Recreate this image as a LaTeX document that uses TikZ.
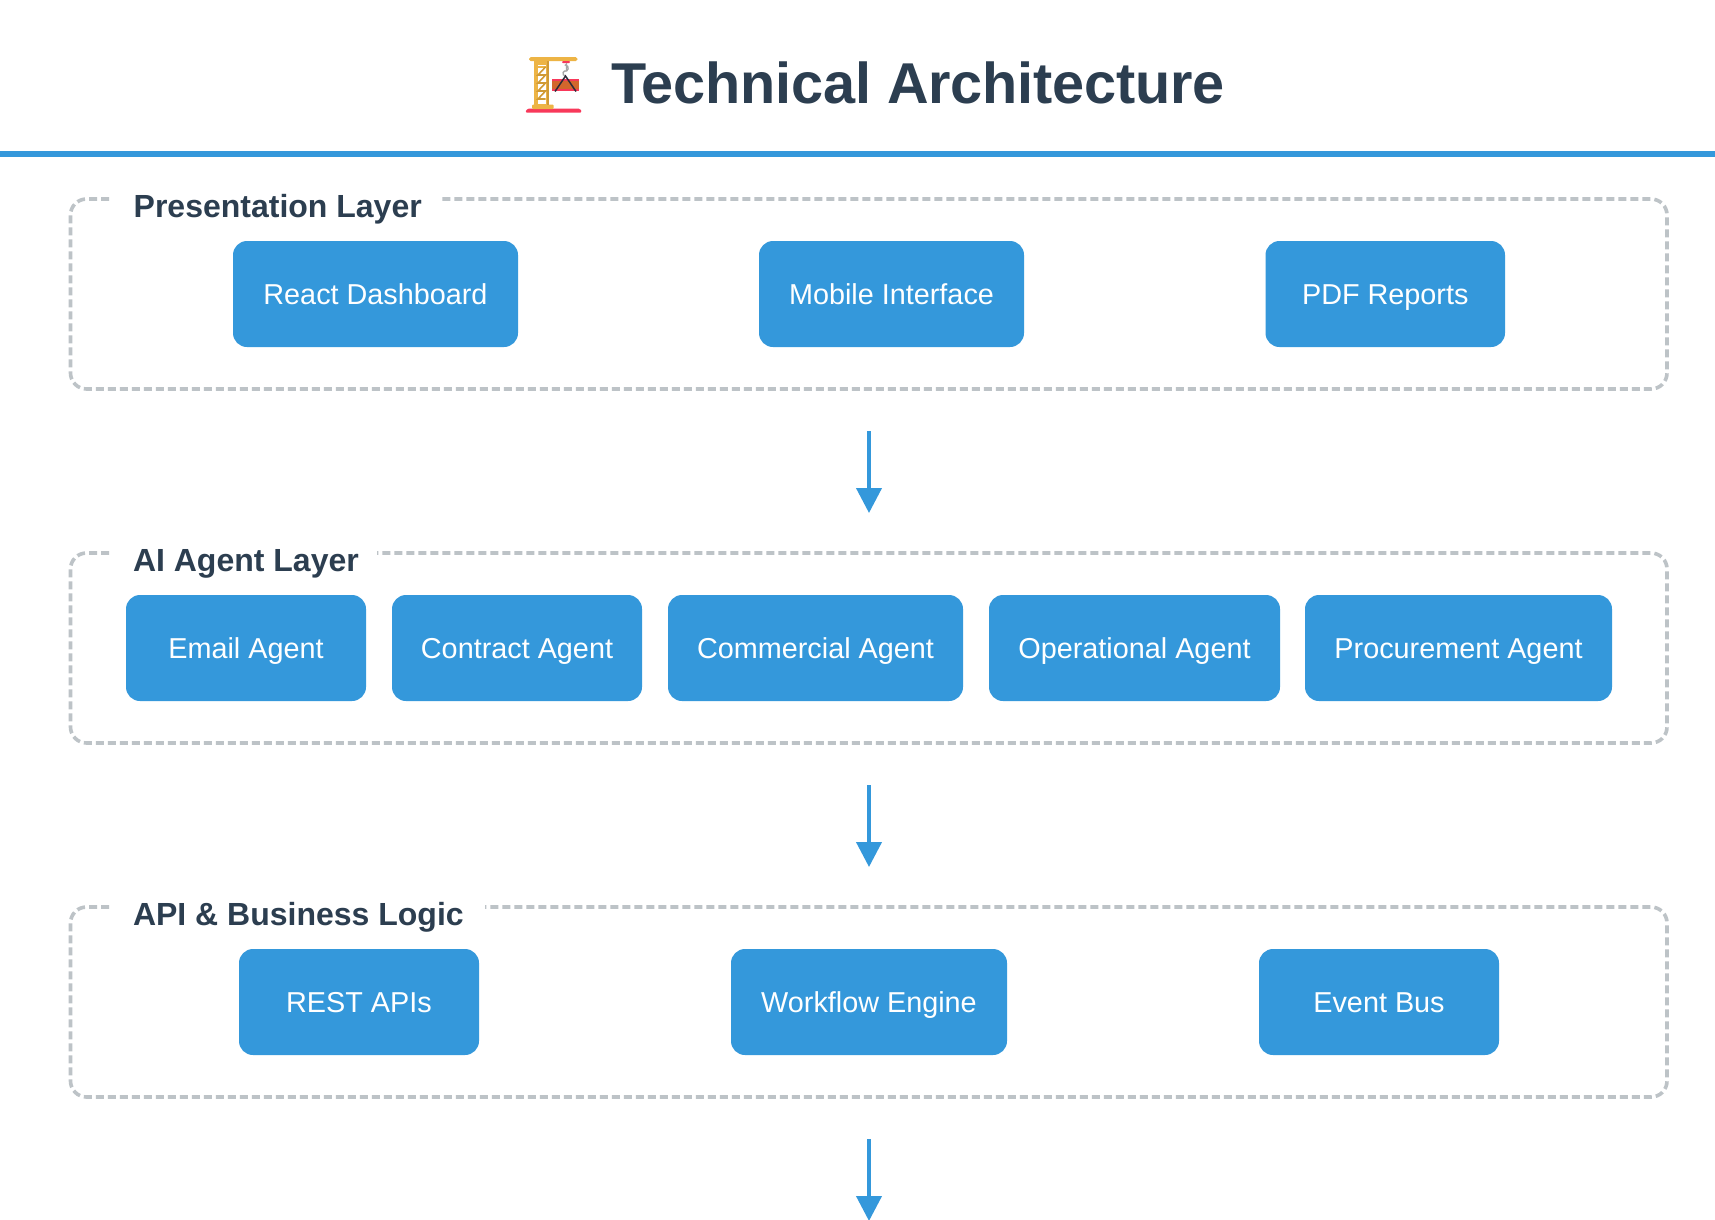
\documentclass[tikz,border=0pt]{standalone}
\usepackage{fontspec}
\setmainfont{Liberation Sans}
\usetikzlibrary{arrows.meta}
\definecolor{accent}{HTML}{3498DB}
\definecolor{ink}{HTML}{2C3E50}
\definecolor{frame}{HTML}{BDC3C7}
\definecolor{craneY}{HTML}{EDB445}
\definecolor{craneD}{HTML}{D09A35}
\definecolor{craneR}{HTML}{F8385A}
\definecolor{craneO}{HTML}{D2662C}
\definecolor{craneK}{HTML}{2E2A3A}
\tikzset{
  x=1pt,y=-1pt,
  layerbox/.style={draw=frame,line width=3.6pt,rounded corners=16pt,dash pattern=on 8pt off 4pt},
  layertitle/.style={anchor=base west,inner sep=0pt,text=ink,font=\fontsize{32}{38}\selectfont\bfseries},
  pill/.style={fill=accent,rounded corners=14pt,draw=none},
  pilltext/.style={text=white,font=\fontsize{28.8}{34}\selectfont},
  flow/.style={draw=accent,line width=4pt,-{Triangle[width=25pt,length=25pt]}},
}
\newcommand{\pillnode}[6]{%
  \path[pill] (#2,#4) rectangle (#3,#5);
  \node[pilltext,anchor=base,inner sep=0pt] (#1) at ({(#2+#3)/2},{#4+52.5+11.2}) {#6};
}
\begin{document}
\begin{tikzpicture}
\useasboundingbox (0,0) rectangle (1715,1219);
\fill[white] (0,0) rectangle (1715,1219);
% header
\node[anchor=base west,inner sep=0pt,text=ink,font=\fontsize{57.6}{68}\selectfont\bfseries\addfontfeature{LetterSpace=-0.28}] (heading) at (611,103) {Technical Architecture};
\fill[accent] (0,151) rectangle (1715,157);
% crane
\fill[craneR,rounded corners=1.5pt] (525,112.5) -- (527.5,108.5) -- (580,108.5) -- (582,112.5) -- cycle;
\fill[craneY,rounded corners=1pt] (532,104.5) rectangle (553.5,109);
\fill[craneY] (534,60) rectangle (549,105);
\fill[craneD] (546.5,60) rectangle (549,105);
\fill[white] (538,65) rectangle (545.5,104);
\draw[craneY,line width=2pt] (538,67) -- (545.5,67);
\draw[craneD,line width=1.6pt] (545.5,67) -- (538,75) -- (545.5,75) -- (538,83) -- (545.5,83) -- (538,91) -- (545.5,91) -- (538,99) -- (545.5,99);
\fill[craneY,rounded corners=1.8pt] (529,57) rectangle (577.5,61.2);
\fill[craneR,rounded corners=1pt] (562,61) rectangle (570,63.2);
\fill[craneO] (552,79.5) rectangle (579,90.5);
\fill[craneR] (552,79) rectangle (579,81);
\fill[craneR] (552,88.5) rectangle (579,91);
\draw[gray!70,line width=1.4pt] (566.5,63) -- (566.5,71) arc[start angle=-70,end angle=-250,radius=2.6];
\draw[gray!70,line width=1.4pt] (566.5,71) arc[start angle=60,end angle=-90,radius=3.4];
\draw[craneK,line width=1.5pt] (555,91.5) -- (565.5,76) -- (576,91.5);
% layers
\draw[layerbox] (109,199) -- (70.5,199) -- (70.5,389) -- (1667,389) -- (1667,199) -- (441,199);
\node[layertitle] (titleA) at (133.5,217) {Presentation Layer};
\pillnode{reactdash}{233}{518}{241}{347}{React Dashboard}
\pillnode{mobile}{759}{1024}{241}{347}{Mobile Interface}
\pillnode{pdf}{1265.5}{1505}{241}{347}{PDF Reports}

\draw[layerbox] (109,553) -- (70.5,553) -- (70.5,743) -- (1667,743) -- (1667,553) -- (377,553);
\node[layertitle] (titleB) at (132.8,571) {AI Agent Layer};
\pillnode{email}{126}{366}{595}{701}{Email Agent}
\pillnode{contract}{392}{642}{595}{701}{Contract Agent}
\pillnode{commercial}{668}{963}{595}{701}{Commercial Agent}
\pillnode{operational}{989}{1280}{595}{701}{Operational Agent}
\pillnode{procurement}{1305}{1612}{595}{701}{Procurement Agent}

\draw[layerbox] (109,907) -- (70.5,907) -- (70.5,1097) -- (1667,1097) -- (1667,907) -- (485,907);
\node[layertitle] (titleC) at (132.8,925) {API \& Business Logic};
\pillnode{rest}{239}{479}{949}{1055}{REST APIs}
\pillnode{workflow}{731}{1007}{949}{1055}{Workflow Engine}
\pillnode{eventbus}{1259}{1499}{949}{1055}{Event Bus}

% connectors
\coordinate (a1) at (869,431); \coordinate (a2) at (869,513);
\coordinate (b1) at (869,785); \coordinate (b2) at (869,867);
\coordinate (c1) at (869,1139); \coordinate (c2) at (869,1221);
\draw[flow] (a1) -- (a2);
\draw[flow] (b1) -- (b2);
\draw[flow] (c1) -- (c2);
\end{tikzpicture}
\end{document}
